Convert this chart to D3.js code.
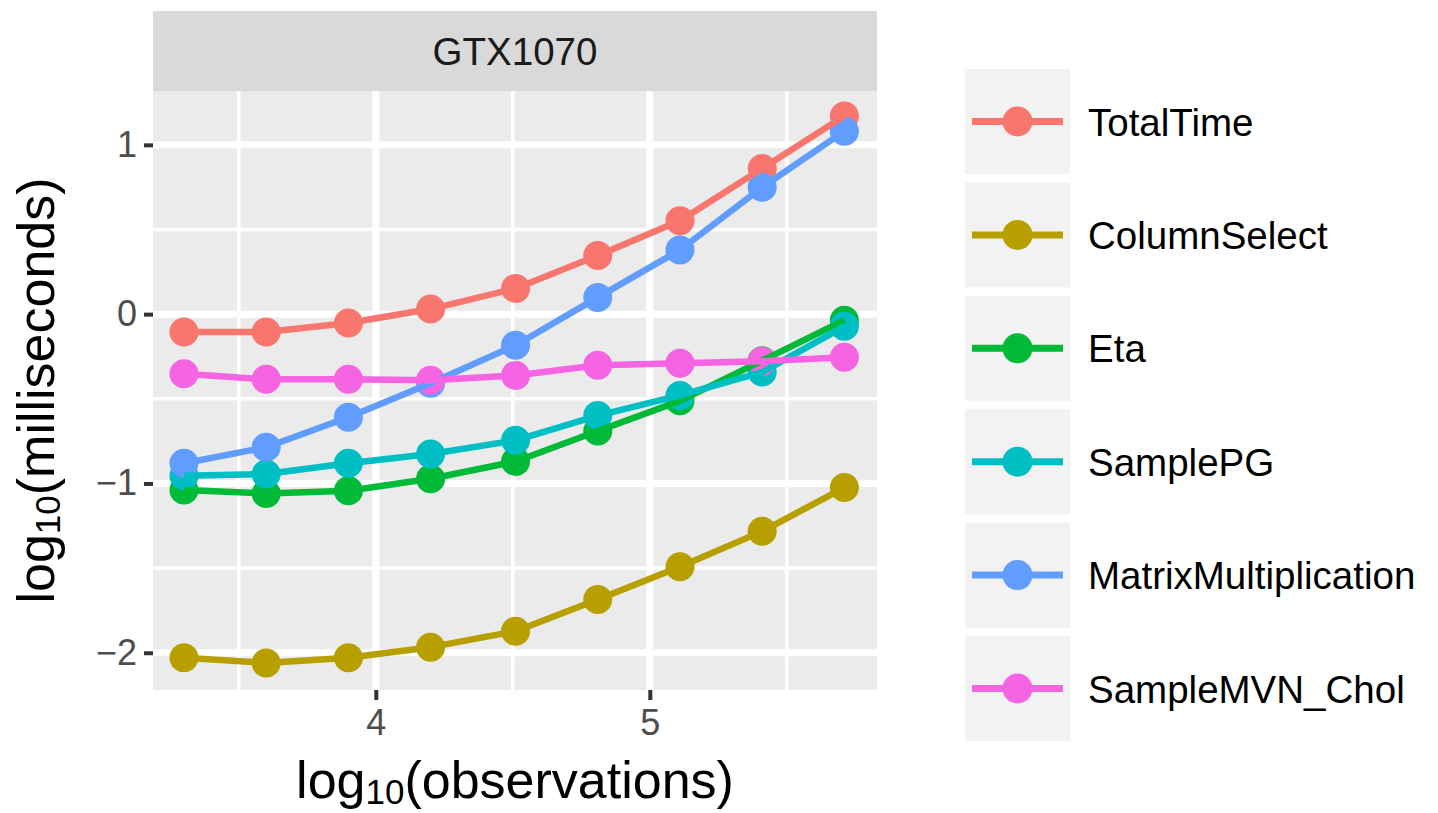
<!DOCTYPE html>
<html>
<head>
<meta charset="utf-8">
<script src="https://cdn.jsdelivr.net/npm/d3@7"></script>
<style>
  html, body { margin: 0; padding: 0; background: #fff; }
  svg { display: block; font-family: "Liberation Sans", Arial, Helvetica, sans-serif; }
</style>
</head>
<body>
<svg id="chart" width="1438" height="813"></svg>
<script>
// log10(observations) at each benchmark size
const logObservations = [3.30, 3.60, 3.90, 4.20, 4.51, 4.81, 5.11, 5.41, 5.71];

// log10(milliseconds) per timed component
const seriesNames = ["TotalTime", "ColumnSelect", "Eta", "SamplePG", "MatrixMultiplication", "SampleMVN_Chol"];
const totalTime        = [-0.105, -0.105, -0.052, 0.030, 0.152, 0.346, 0.551, 0.860, 1.170];
const columnSelect     = [-2.030, -2.060, -2.030, -1.967, -1.873, -1.685, -1.492, -1.283, -1.024];
const eta              = [-1.039, -1.059, -1.043, -0.972, -0.870, -0.690, -0.512, -0.275, -0.036];
const samplePG         = [-0.954, -0.944, -0.881, -0.826, -0.745, -0.599, -0.480, -0.342, -0.072];
const matrixMult       = [-0.881, -0.786, -0.609, -0.408, -0.184, 0.099, 0.379, 0.749, 1.081];
const sampleMVNChol    = [-0.352, -0.385, -0.385, -0.390, -0.362, -0.302, -0.290, -0.278, -0.254];
const seriesValues = [totalTime, columnSelect, eta, samplePG, matrixMult, sampleMVNChol];
const seriesColors = ["#F8766D", "#B79F00", "#00BA38", "#00BFC4", "#619CFF", "#F564E3"];

// axis ticks
const xMajorTicks = [4, 5];
const xMinorTicks = [3.5, 4.5, 5.5];
const yMajorTicks = [-2, -1, 0, 1];
const yMinorTicks = [-1.5, -0.5, 0.5];
const facetLabel = "GTX1070";

const svg = d3.select("#chart");

// panel geometry
const panel = { left: 153, right: 877, top: 91, bottom: 690 };
const strip = { top: 11, bottom: 91 };

const x = d3.scaleLinear().domain([3.187, 5.829]).range([panel.left, panel.right]);
const y = d3.scaleLinear().domain([-2.22, 1.318]).range([panel.bottom, panel.top]);

// facet strip
svg.append("rect")
  .attr("x", panel.left).attr("y", strip.top)
  .attr("width", panel.right - panel.left).attr("height", strip.bottom - strip.top)
  .attr("fill", "#D9D9D9");
svg.append("text")
  .attr("x", (panel.left + panel.right) / 2).attr("y", 65)
  .attr("text-anchor", "middle")
  .attr("font-size", 38.5).attr("fill", "#1A1A1A")
  .text(facetLabel);

// panel background
svg.append("rect")
  .attr("x", panel.left).attr("y", panel.top)
  .attr("width", panel.right - panel.left).attr("height", panel.bottom - panel.top)
  .attr("fill", "#EBEBEB");

const grid = svg.append("g");
// minor grid
grid.selectAll(".xminor").data(xMinorTicks).join("line")
  .attr("x1", d => x(d)).attr("x2", d => x(d))
  .attr("y1", panel.top).attr("y2", panel.bottom)
  .attr("stroke", "#fff").attr("stroke-width", 3.6);
grid.selectAll(".yminor").data(yMinorTicks).join("line")
  .attr("y1", d => y(d)).attr("y2", d => y(d))
  .attr("x1", panel.left).attr("x2", panel.right)
  .attr("stroke", "#fff").attr("stroke-width", 3.6);
// major grid
grid.selectAll(".xmajor").data(xMajorTicks).join("line")
  .attr("x1", d => x(d)).attr("x2", d => x(d))
  .attr("y1", panel.top).attr("y2", panel.bottom)
  .attr("stroke", "#fff").attr("stroke-width", 7);
grid.selectAll(".ymajor").data(yMajorTicks).join("line")
  .attr("y1", d => y(d)).attr("y2", d => y(d))
  .attr("x1", panel.left).attr("x2", panel.right)
  .attr("stroke", "#fff").attr("stroke-width", 7);

// data
const series = seriesNames.map((name, i) => ({
  name,
  color: seriesColors[i],
  points: logObservations.map((lx, j) => ({ x: lx, y: seriesValues[i][j] }))
}));

const plot = svg.append("g");
const line = d3.line().x(d => x(d.x)).y(d => y(d.y));

// points first, then lines over them
series.forEach(s => {
  plot.append("g").selectAll("circle").data(s.points).join("circle")
    .attr("cx", d => x(d.x)).attr("cy", d => y(d.y))
    .attr("r", 14.5).attr("fill", s.color);
});
series.forEach(s => {
  plot.append("path").datum(s.points)
    .attr("d", line)
    .attr("fill", "none").attr("stroke", s.color)
    .attr("stroke-width", 6.5).attr("stroke-linejoin", "round");
});

// axes
const fmt = d => d3.format("d")(d).replace("-", "\u2212");
const yAxis = svg.append("g")
  .attr("transform", `translate(${panel.left},0)`)
  .call(d3.axisLeft(y).tickValues(yMajorTicks).tickFormat(fmt).tickSize(9).tickPadding(7));
const xAxis = svg.append("g")
  .attr("transform", `translate(0,${panel.bottom})`)
  .call(d3.axisBottom(x).tickValues(xMajorTicks).tickFormat(fmt).tickSize(10).tickPadding(9));
[yAxis, xAxis].forEach(a => {
  a.select(".domain").remove();
  a.selectAll(".tick line").attr("stroke", "#333333").attr("stroke-width", 4);
  a.selectAll(".tick text")
    .attr("fill", "#4D4D4D").attr("font-size", 36)
    .attr("font-family", "Liberation Sans, Arial, sans-serif");
});

// axis titles with subscripted 10
function titleWithSub(sel, base, rest) {
  sel.append("tspan").text(base);
  sel.append("tspan").attr("font-size", 35).attr("dy", 6).text("10");
  sel.append("tspan").attr("dy", -6).text(rest);
}
const xTitle = svg.append("text")
  .attr("x", (panel.left + panel.right) / 2).attr("y", 798)
  .attr("text-anchor", "middle").attr("font-size", 52).attr("fill", "#000");
titleWithSub(xTitle, "log", "(observations)");

const yTitle = svg.append("text")
  .attr("transform", `translate(54,${(panel.top + panel.bottom) / 2}) rotate(-90)`)
  .attr("text-anchor", "middle").attr("font-size", 52).attr("fill", "#000");
titleWithSub(yTitle, "log", "(milliseconds)");

// legend
const legend = svg.append("g");
const keyX = 965, keyW = 105, keyH = 105, keyTop = 69, keyStep = 113.4;
series.forEach((s, i) => {
  const g = legend.append("g").attr("transform", `translate(${keyX},${keyTop + i * keyStep})`);
  g.append("rect").attr("width", keyW).attr("height", keyH).attr("fill", "#F2F2F2");
  g.append("circle").attr("cx", keyW / 2).attr("cy", keyH / 2).attr("r", 15).attr("fill", s.color);
  g.append("line")
    .attr("x1", 7).attr("x2", keyW - 7)
    .attr("y1", keyH / 2).attr("y2", keyH / 2)
    .attr("stroke", s.color).attr("stroke-width", 7);
  g.append("text")
    .attr("x", 1088 - keyX).attr("y", keyH / 2 + 14)
    .attr("font-size", 38.5).attr("fill", "#000")
    .text(s.name);
});
</script>
</body>
</html>
